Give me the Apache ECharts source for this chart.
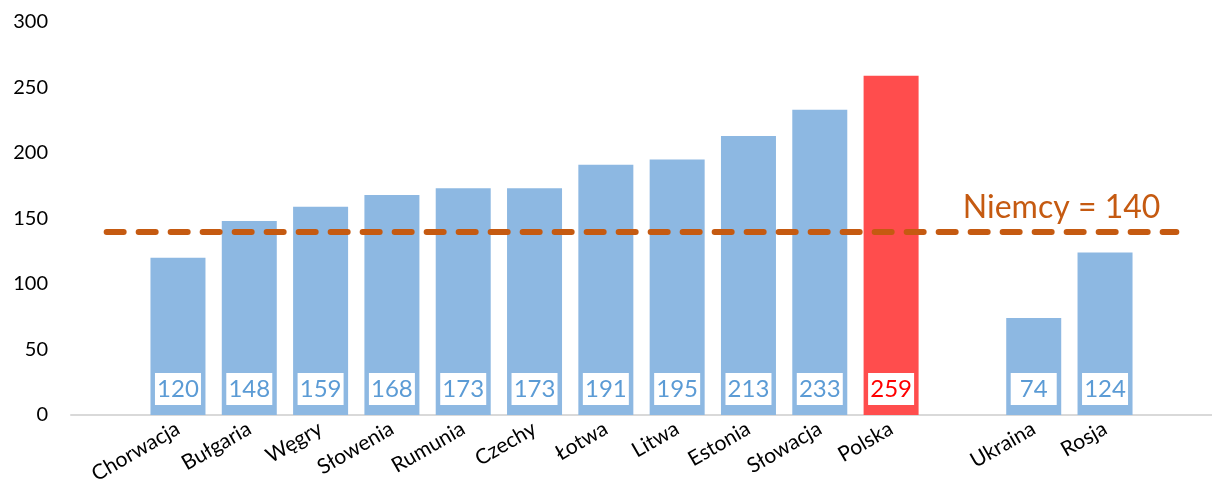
<!DOCTYPE html>
<html><head><meta charset="utf-8">
<script src="https://cdn.jsdelivr.net/npm/echarts@6/dist/echarts.min.js"></script>
<style>html,body{margin:0;padding:0;background:#fff}#c{width:1212px;height:498px}</style>
</head><body><div id="c"></div>
<script>
const categories = ['', 'Chorwacja', 'Bułgaria', 'Węgry', 'Słowenia', 'Rumunia', 'Czechy', 'Łotwa', 'Litwa', 'Estonia', 'Słowacja', 'Polska', '', 'Ukraina', 'Rosja', ''];
const values = [null, 120, 148, 159, 168, 173, 173, 191, 195, 213, 233, 259, null, 74, 124, null];
const highlight = 'Polska';
const referenceValue = 140;
const referenceLabel = 'Niemcy = 140';
const yTicks = [0, 50, 100, 150, 200, 250, 300];

const FONT = 'Lato, "Open Sans", sans-serif';
const chart = echarts.init(document.getElementById('c'), null, {renderer: 'canvas'});
const data = values.map((v, i) => {
  if (v === null) return null;
  const hi = categories[i] === highlight;
  return {
    value: v,
    itemStyle: {color: hi ? '#FF4D4D' : '#8DB8E2'},
    label: {color: hi ? '#FF0000' : '#5B9BD5'}
  };
});
chart.setOption({
  animation: false,
  grid: {left: 71, right: 0, top: 22, bottom: 83, containLabel: false},
  xAxis: {
    type: 'category', data: categories,
    axisLine: {lineStyle: {color: '#D9D9D9', width: 2}},
    axisTick: {show: false},
    axisLabel: {rotate: 30, fontSize: 21, color: '#000', fontFamily: FONT, margin: 12, interval: 0}
  },
  yAxis: {
    type: 'value', min: yTicks[0], max: yTicks[yTicks.length - 1], interval: 50,
    axisLine: {show: false}, axisTick: {show: false}, splitLine: {show: false},
    axisLabel: {fontSize: 20, color: '#000', fontFamily: FONT, margin: 23}
  },
  series: [{
    type: 'bar', data: data, barWidth: 55,
    label: {
      show: true, position: 'insideBottom', distance: 10,
      backgroundColor: '#fff', width: 46, height: 32, lineHeight: 32, align: 'center',
      fontSize: 24, fontFamily: FONT, padding: 0
    },
    markLine: {
      silent: true, symbol: 'none', z: 10,
      data: [[{coord: [0, referenceValue]}, {coord: [categories.length - 1, referenceValue]}]],
      lineStyle: {color: '#C55A11', width: 6, type: [17, 15], cap: 'round'},
      label: {show: true, position: 'insideEndTop', formatter: referenceLabel, color: '#C55A11',
        fontSize: 32, fontFamily: FONT, distance: [16, 8]}
    }
  }]
});
</script></body></html>
